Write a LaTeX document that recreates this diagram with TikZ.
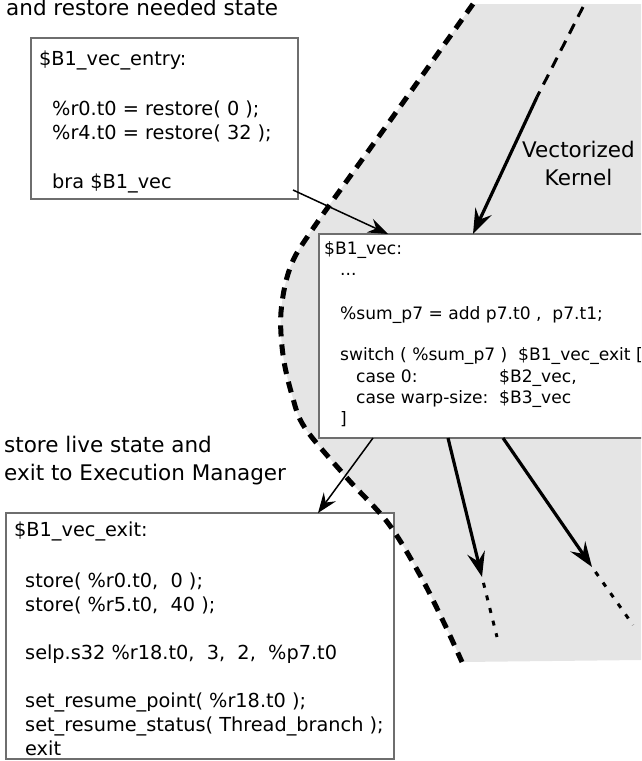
\documentclass[tikz,border=0pt]{standalone}
\usepackage{fontspec}
\setmainfont{DejaVu Sans}
\usetikzlibrary{arrows.meta,calc}
\definecolor{kernelgrey}{RGB}{229,229,229}
\definecolor{boxline}{RGB}{110,110,110}
\begin{document}
\begin{tikzpicture}[x=1pt,y=-1pt,
  codebox/.style={draw=boxline, line width=1.3pt, fill=white, inner sep=0pt, outer sep=0pt, anchor=north west},
  codeA/.style={anchor=base west, inner sep=0pt, font=\fontsize{19.3}{24}\selectfont},
  codeB/.style={anchor=base west, inner sep=0pt, font=\fontsize{17.1}{21}\selectfont},
  caption/.style={anchor=base west, inner sep=0pt, font=\fontsize{21.5}{28}\selectfont},
  thinarrow/.style={line width=1.5pt, -{Stealth[length=20pt,width=15pt,inset=7pt]}},
  thickarrow/.style={line width=3.2pt, -{Stealth[length=25pt,width=18pt,inset=9pt]}},
  boundary/.style={line width=5pt, dash pattern=on 11pt off 8pt},
  dashtail/.style={line width=3pt, dash pattern=on 11pt off 8pt},
  dottail/.style={line width=3pt, dash pattern=on 5pt off 8pt}
]
\useasboundingbox (0,0) rectangle (641,761);
\clip (0,0) rectangle (641,761);

% shaded region of the vectorized kernel
\fill[kernelgrey] plot[smooth,tension=0.55] coordinates {(473,4) (392,118) (312,230) (290,268) (281,312) (283,355) (292,395) (305,428) (347,478) (388,523) (420,575) (445,625) (462,662)}
  -- (641,660) -- (641,4) -- cycle;

% code blocks
\node[codebox, minimum width=267pt, minimum height=161pt] (entry) at (31,38) {};
\node[codebox, minimum width=360pt, minimum height=204pt] (vec) at (319,234) {};
\node[codebox, minimum width=388pt, minimum height=246pt] (exit) at (6,513) {};

\node[codeA] (e1) at (39,65) {\$B1\_vec\_entry:};
\node[codeA] (e2) at (52,115) {\%r0.t0 = restore( 0 );};
\node[codeA] (e3) at (52,139) {\%r4.t0 = restore( 32 );};
\node[codeA] (e4) at (52,188) {bra \$B1\_vec};

\node[codeB] (v1) at (324,254) {\$B1\_vec:};
\node[codeB] (v2) at (340,275) {...};
\node[codeB] (v3) at (340,319) {\%sum\_p7 = add p7.t0 ,~~p7.t1;};
\node[codeB] (v4) at (340,360) {switch ( \%sum\_p7 )~~\$B1\_vec\_exit [};
\node[codeB] (v5) at (356,382) {\makebox[143pt][l]{case 0:}\$B2\_vec,};
\node[codeB] (v6) at (356,403) {\makebox[143pt][l]{case warp-size:}\$B3\_vec};
\node[codeB] (v7) at (340,424) {]};

\node[codeA] (x1) at (14,536) {\$B1\_vec\_exit:};
\node[codeA] (x2) at (25,587) {store( \%r0.t0,~~0 );};
\node[codeA] (x3) at (25,611) {store( \%r5.t0,~~40 );};
\node[codeA] (x4) at (25,659) {selp.s32 \%r18.t0,~~3,~~2,~~\%p7.t0};
\node[codeA] (x5) at (25,707) {set\_resume\_point( \%r18.t0 );};
\node[codeA] (x6) at (25,731) {set\_resume\_status( Thread\_branch );};
\node[codeA] (x7) at (25,755) {exit};

% captions
\node[caption] (c1) at (6,15) {and restore needed state};
\node[caption] (c2) at (4,452) {store live state and};
\node[caption] (c3) at (4,480) {exit to Execution Manager};
\node[caption, anchor=base] (k1) at (578.5,157) {Vectorized};
\node[caption, anchor=base] (k2) at (578.5,185) {Kernel};

% kernel boundary
\draw[boundary] plot[smooth,tension=0.55] coordinates {(473,4) (392,118) (312,230) (290,268) (281,312) (283,355) (292,395) (305,428) (347,478) (388,523) (420,575) (445,625) (462,662)};

% control flow
\draw[thinarrow] ($(entry.south east)+(-5,-9)$) -- ($(vec.north west)+(69,0)$);
\draw[thinarrow] ($(vec.south west)+(54,0)$) -- ($(exit.north west)+(312,0)$);

\coordinate (kin0) at (583,7);
\coordinate (kin1) at (537,97);
\draw[dashtail] (kin0) -- (kin1);
\draw[thickarrow] (kin1) -- ($(vec.north west)+(154,0)$);

\coordinate (b2tip) at (482,577);
\coordinate (b2end) at (497,637);
\coordinate (b3tip) at (592,567);
\coordinate (b3end) at (633,625);
\draw[thickarrow] ($(vec.south west)+(129,0)$) -- (b2tip);
\draw[thickarrow] ($(vec.south west)+(184,0)$) -- (b3tip);
\draw[dottail] ($(b2tip)!6pt!(b2end)$) -- (b2end);
\draw[dottail] ($(b3tip)!6pt!(b3end)$) -- (b3end);
\end{tikzpicture}
\end{document}
